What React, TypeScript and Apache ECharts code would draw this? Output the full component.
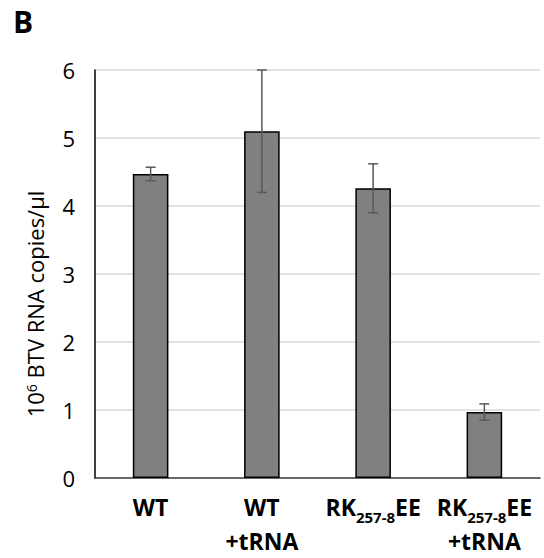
import React, { useEffect, useRef } from "react";
import * as echarts from "echarts";

const categories = ["WT", "WT\n+tRNA", "RK{sub|257-8}EE", "RK{sub|257-8}EE\n+tRNA"];
const means = [4.47, 5.1, 4.26, 0.97];
const errors = [0.1, 0.9, 0.36, 0.12];
const yTicks = [0, 1, 2, 3, 4, 5, 6];

const FONT = "'Open Sans', 'Liberation Sans', sans-serif";

export default function App() {
  const ref = useRef<HTMLDivElement>(null);
  useEffect(() => {
    if (!ref.current) return;
    const chart = echarts.init(ref.current, undefined, { renderer: "svg" });
    const errData = means.map((m, i) => [i, m - errors[i], m + errors[i]]);
    chart.setOption({
      animation: false,
      backgroundColor: "#ffffff",
      grid: { left: 95, right: 4, top: 70, bottom: 80 },
      graphic: [
        {
          type: "text",
          left: 13,
          top: 6,
          style: { text: "B", font: `bold 30px ${FONT}`, fill: "#000" },
        },
        {
          type: "text",
          x: 35,
          y: 304,
          rotation: Math.PI / 2,
          style: {
            text: "10{sup|6} BTV RNA copies/μl",
            align: "center",
            verticalAlign: "middle",
            font: `22px ${FONT}`,
            fill: "#000",
            rich: {
              sup: { fontSize: 14, verticalAlign: "top", lineHeight: 18, fontFamily: FONT, fill: "#000" },
            },
          },
        },
      ],
      xAxis: {
        type: "category",
        data: categories,
        axisLine: { show: true, lineStyle: { color: "#404040", width: 1.5 } },
        axisTick: { show: false },
        axisLabel: {
          margin: 12,
          fontFamily: FONT,
          fontWeight: "bold",
          fontSize: 23,
          color: "#000",
          lineHeight: 34,
          interval: 0,
          rich: {
            sub: { fontSize: 15, fontWeight: "bold", fontFamily: FONT, color: "#000", verticalAlign: "bottom", lineHeight: 24 },
          },
        },
      },
      yAxis: {
        type: "value",
        min: 0,
        max: 6,
        interval: 1,
        axisLine: { show: true, lineStyle: { color: "#000", width: 1.5 } },
        axisTick: { show: false },
        axisLabel: {
          margin: 20,
          fontFamily: FONT,
          fontSize: 22,
          color: "#000",
          formatter: (v: number) => (yTicks.includes(v) ? String(v) : ""),
        },
        splitLine: { show: true, lineStyle: { color: "#d9d9d9", width: 1.5 } },
      },
      series: [
        {
          type: "bar",
          data: means,
          barWidth: "32%",
          itemStyle: { color: "#808080", borderColor: "#000", borderWidth: 1.5 },
        },
        {
          type: "custom",
          data: errData,
          z: 10,
          renderItem: (params: any, api: any) => {
            const x = api.value(0);
            const lo = api.coord([x, api.value(1)]);
            const hi = api.coord([x, api.value(2)]);
            const cap = 5;
            const style = { stroke: "#595959", lineWidth: 1.5 };
            return {
              type: "group",
              children: [
                { type: "line", shape: { x1: hi[0], y1: hi[1], x2: lo[0], y2: lo[1] }, style },
                { type: "line", shape: { x1: hi[0] - cap, y1: hi[1], x2: hi[0] + cap, y2: hi[1] }, style },
                { type: "line", shape: { x1: lo[0] - cap, y1: lo[1], x2: lo[0] + cap, y2: lo[1] }, style },
              ],
            };
          },
        },
      ],
    });
    return () => chart.dispose();
  }, []);
  return (
    <div
      ref={ref}
      style={{ position: "fixed", left: 0, top: 0, width: 544, height: 558, background: "#fff" }}
    />
  );
}
